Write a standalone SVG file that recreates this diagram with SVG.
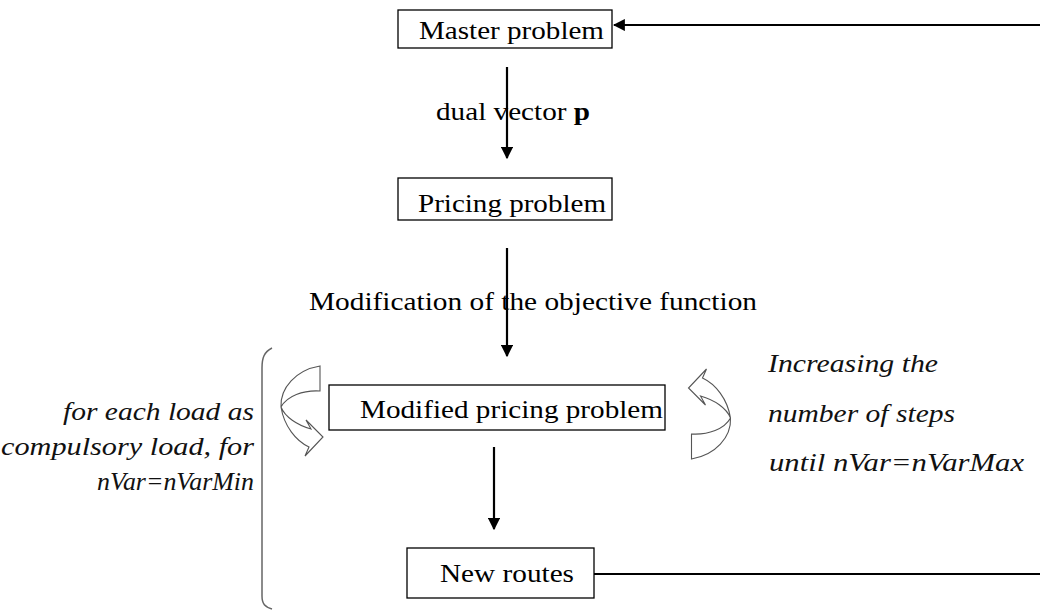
<svg xmlns="http://www.w3.org/2000/svg" width="1040" height="614" viewBox="0 0 1040 614">
  <style>
    .box { fill: #fff; stroke: #000; stroke-width: 1.3; }
    .lbl { font-family: 'Liberation Serif', Tinos, 'Times New Roman', serif; font-size: 26px; fill: #000; }
    .note { font-family: 'Liberation Serif', Tinos, 'Times New Roman', serif; font-size: 26px; font-style: italic; fill: #111; }
    .wire { stroke: #000; stroke-width: 2.2; fill: none; }
    .loop { fill: #fff; stroke: #555; stroke-width: 1.1; }
  </style>
  <defs>
    <marker id="head" viewBox="0 0 10 10" refX="9" refY="5" markerWidth="5.5" markerHeight="5.5" orient="auto" markerUnits="strokeWidth">
      <path d="M0,0 L10,5 L0,10 z" fill="#000"/>
    </marker>
    <!-- curved block arrow used for the two loops -->
    <path id="loopArrow" d="M320,366 C296,370 280,388 281,407 C284,426 296,441 309,447 L305,456 L323,437 L306,420 L311,429 C297,425 285,417 281,407 C287,396 303,390 320,391 Z"/>
  </defs>

  <g id="connectors">
    <line class="wire" x1="1040" y1="25" x2="614" y2="25" marker-end="url(#head)"/>
    <line class="wire" x1="507" y1="67" x2="507" y2="158" marker-end="url(#head)"/>
    <line class="wire" x1="507" y1="248" x2="507" y2="356" marker-end="url(#head)"/>
    <line class="wire" x1="494" y1="447" x2="494" y2="529" marker-end="url(#head)"/>
    <line class="wire" x1="594" y1="574" x2="1040" y2="574"/>
  </g>

  <g id="edge-labels">
    <text class="lbl" x="436" y="120" textLength="154" lengthAdjust="spacingAndGlyphs">dual vector <tspan font-weight="bold">p</tspan></text>
    <text class="lbl" x="309" y="310" textLength="448" lengthAdjust="spacingAndGlyphs">Modification of the objective function</text>
  </g>

  <g id="master">
    <rect class="box" x="398" y="10" width="214" height="38"/>
    <text class="lbl" x="419" y="39" textLength="185" lengthAdjust="spacingAndGlyphs">Master problem</text>
  </g>

  <g id="pricing">
    <rect class="box" x="398" y="178" width="214" height="42"/>
    <text class="lbl" x="418" y="212" textLength="188" lengthAdjust="spacingAndGlyphs">Pricing problem</text>
  </g>

  <g id="modified-pricing">
    <rect class="box" x="329" y="385" width="336" height="45"/>
    <text class="lbl" x="360" y="418" textLength="303" lengthAdjust="spacingAndGlyphs">Modified pricing problem</text>
  </g>

  <g id="new-routes">
    <rect class="box" x="407" y="548" width="187" height="50"/>
    <text class="lbl" x="440" y="582" textLength="134" lengthAdjust="spacingAndGlyphs">New routes</text>
  </g>

  <g id="inner-loop">
    <use href="#loopArrow" class="loop"/>
    <path d="M272,348 C264,352 262,358 262,368 L262,596 C262,604 265,607 272,609" fill="none" stroke="#666" stroke-width="1.5"/>
    <text class="note" x="63" y="420" textLength="191" lengthAdjust="spacingAndGlyphs">for each load as</text>
    <text class="note" x="1" y="455" textLength="253" lengthAdjust="spacingAndGlyphs">compulsory load, for</text>
    <text class="note" x="97" y="490" textLength="157" lengthAdjust="spacingAndGlyphs">nVar=nVarMin</text>
  </g>

  <g id="outer-loop">
    <use href="#loopArrow" class="loop" transform="translate(1011.5,825) rotate(180)"/>
    <text class="note" x="768" y="372" textLength="170" lengthAdjust="spacingAndGlyphs">Increasing the</text>
    <text class="note" x="768" y="422" textLength="187" lengthAdjust="spacingAndGlyphs">number of steps</text>
    <text class="note" x="769" y="471" textLength="255" lengthAdjust="spacingAndGlyphs">until  nVar=nVarMax</text>
  </g>
</svg>
